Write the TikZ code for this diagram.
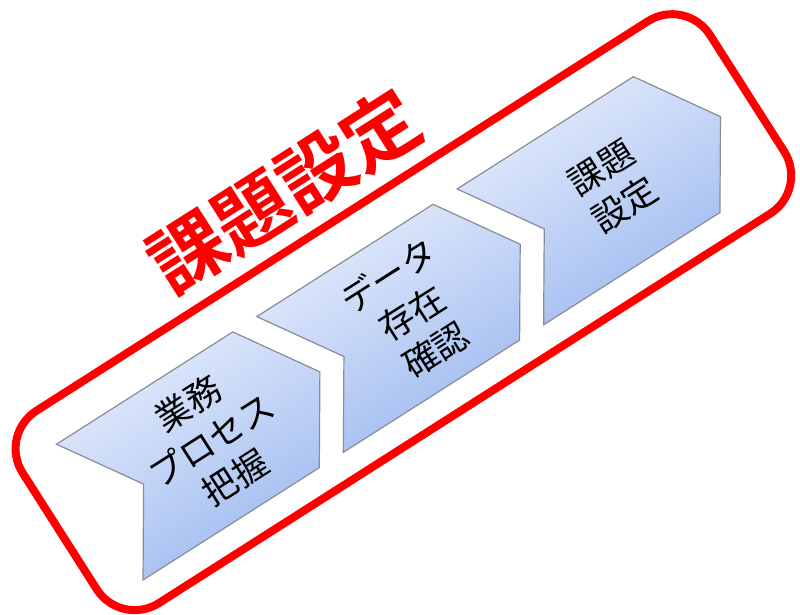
\documentclass[tikz,border=0pt]{standalone}
\usepackage{fontspec}
\newfontfamily\jp[BoldFont={Noto Sans CJK JP Bold}]{Noto Sans CJK JP}
\definecolor{framered}{RGB}{255,0,0}
\definecolor{chevlight}{RGB}{230,237,252}
\definecolor{chevdark}{RGB}{158,186,240}
\definecolor{chevline}{RGB}{135,140,152}
\tikzset{
  frame/.style={draw=framered, line width=8pt, rounded corners=45pt},
  chev/.style={draw=chevline, line width=1.2pt, top color=chevlight, bottom color=chevdark, shading angle=32.5},
  chevtext/.style={rotate=32.5, align=center, font=\jp\fontsize{35}{44}\selectfont, text=black, inner sep=0pt},
  titletext/.style={rotate=32.5, font=\jp\bfseries\fontsize{76}{80}\selectfont, text=framered, inner sep=0pt}
}
\begin{document}
\begin{tikzpicture}[x=1pt,y=-1pt]
\useasboundingbox (0,0) rectangle (800,614);
\begin{scope}[x={(0.8434pt,0.5373pt)}, y={(0.5373pt,-0.8434pt)}]
  \coordinate (f1) at (-235,366);
  \coordinate (f2) at (580,366);
  \coordinate (f3) at (580,594);
  \coordinate (f4) at (-235,594);
  \draw[frame] (f1) -- (f2) -- (f3) -- (f4) -- cycle;
  \foreach \k/\name in {0/c1,1/c2,2/c3}{
    \pgfmathsetmacro{\o}{237.5*\k}
    \draw[chev] (-191+\o,405) coordinate (\name a) -- (18+\o,405) -- (70+\o,485.5) -- (18+\o,566) -- (-191+\o,566) -- (-139+\o,485.5) -- cycle;
  }
  \node[chevtext] (t1) at (-58,485) {業務\\プロセス\\把握};
  \node[chevtext] (t2) at (179.5,485) {データ\\存在\\確認};
  \node[chevtext] (t3) at (417,487) {課題\\設定};
  \node[titletext] (title) at (137,314) {課題設定};
\end{scope}
\end{tikzpicture}
\end{document}
